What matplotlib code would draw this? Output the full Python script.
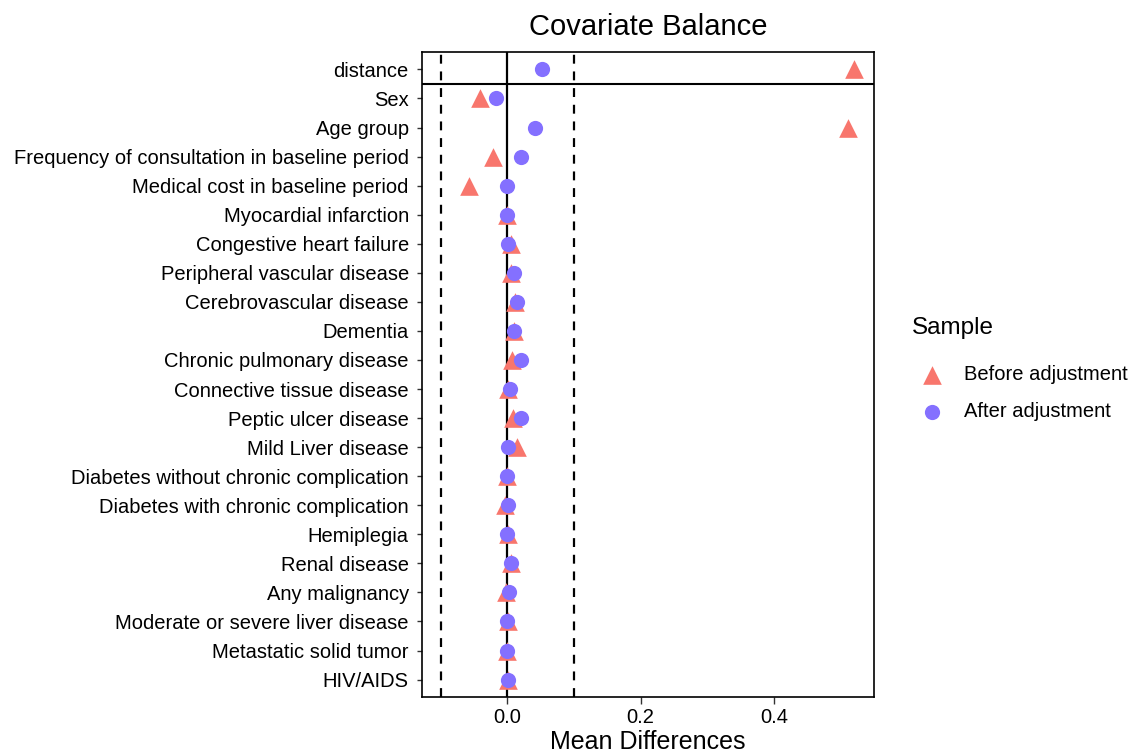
import numpy as np
import matplotlib.pyplot as plt

plt.rcParams['font.family'] = ['Liberation Sans', 'DejaVu Sans']

covariates = ["distance", "Sex", "Age group", "Frequency of consultation in baseline period",
              "Medical cost in baseline period", "Myocardial infarction", "Congestive heart failure",
              "Peripheral vascular disease", "Cerebrovascular disease", "Dementia",
              "Chronic pulmonary disease", "Connective tissue disease", "Peptic ulcer disease",
              "Mild Liver disease", "Diabetes without chronic complication",
              "Diabetes with chronic complication", "Hemiplegia", "Renal disease",
              "Any malignancy", "Moderate or severe liver disease", "Metastatic solid tumor",
              "HIV/AIDS"]
before_adj = [0.52, -0.041, 0.511, -0.021, -0.058, 0.0, 0.005, 0.005, 0.012, 0.010,
              0.0065, 0.001, 0.008, 0.014, -0.001, -0.003, 0.001, 0.006, -0.002, 0.001,
              0.0, 0.001]
after_adj = [0.0516, -0.0175, 0.0416, 0.0205, 0.0, 0.0, 0.001, 0.0105, 0.015, 0.010,
             0.0205, 0.004, 0.0205, 0.001, 0.0, 0.001, 0.0, 0.005, 0.003, 0.0, 0.0, 0.001]

n = len(covariates)
ypos = np.arange(n)[::-1]

fig = plt.figure(figsize=(11.34, 7.53), dpi=100)
ax = fig.add_axes([422/1134, 1 - 697/753, (874 - 422)/1134, (697 - 52)/753])

ax.axvline(0, color='black', lw=1.6, zorder=1)
ax.axvline(-0.1, color='black', lw=1.6, ls=(0, (4, 3.5)), zorder=1)
ax.axvline(0.1, color='black', lw=1.6, ls=(0, (4, 3.5)), zorder=1)
ax.axhline(n - 1.5, color='black', lw=1.5, zorder=1)

ax.scatter(before_adj, ypos, marker='^', s=180, color='#F8766D', lw=0, zorder=3,
           label='Before adjustment')
ax.scatter(after_adj, ypos, marker='o', s=120, color='#8470FF', lw=0, zorder=4,
           label='After adjustment')

ax.set_xlim(-0.128, 0.55)
ax.set_ylim(-0.6, n - 0.4)
ax.set_xticks([0.0, 0.2, 0.4])
ax.set_xticklabels(['0.0', '0.2', '0.4'])
ax.set_yticks(ypos)
ax.set_yticklabels(covariates)
ax.tick_params(axis='x', labelsize=14.5, length=5, width=1, color='#333333', pad=3)
ax.tick_params(axis='y', labelsize=14.5, length=3.5, width=1, color='#333333', pad=6)
for sp in ax.spines.values():
    sp.set_linewidth(1.2)
    sp.set_color('black')

ax.set_xlabel('Mean Differences', fontsize=18, labelpad=2)
ax.set_title('Covariate Balance', fontsize=21, pad=12)

leg = ax.legend(title='Sample', loc='upper left', bbox_to_anchor=(1.061, 0.605),
                frameon=False, fontsize=14.5, title_fontsize=17.5, handletextpad=0.6,
                labelspacing=0.9, scatterpoints=1, borderpad=0)
leg._legend_box.align = 'left'
leg._legend_box.sep = 19

fig.savefig('out.png', dpi=100)
